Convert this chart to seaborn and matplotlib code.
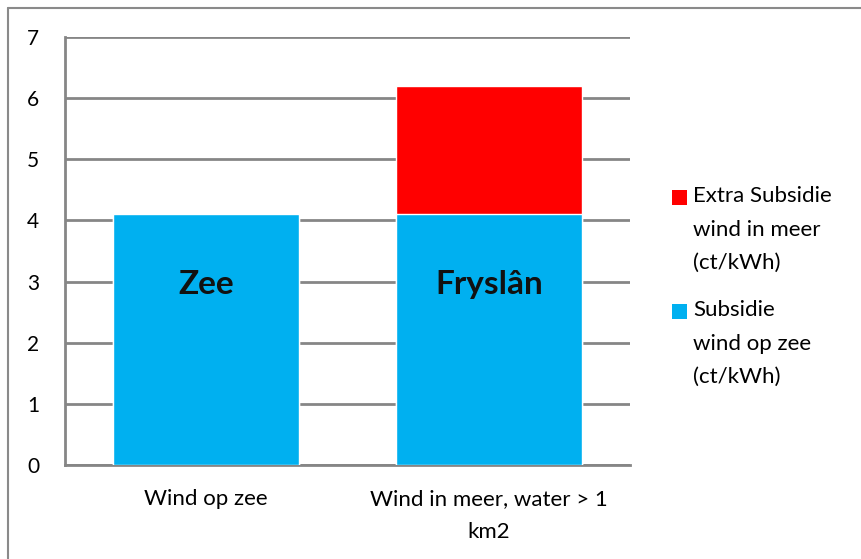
import pandas as pd
import matplotlib.pyplot as plt
import seaborn as sns
from matplotlib.patches import Rectangle
from matplotlib.lines import Line2D

# Gegevens uit de grafiek
categorieen = ["Wind op zee", "Wind in meer, water > 1\nkm2"]
subsidie_zee = [4.1, 4.1]
extra_subsidie = [0.0, 2.1]
bar_teksten = ["Zee", "Fryslân"]
legenda_labels = ["Extra Subsidie\nwind in meer\n(ct/kWh)", "Subsidie\nwind op zee\n(ct/kWh)"]

blauw = "#00B0F0"
rood = "#FF0000"
grijs = "#868686"

sns.set_style("white")
plt.rcParams["font.family"] = ["Lato", "DejaVu Sans"]

df = pd.DataFrame({
    "categorie": categorieen,
    "zee": subsidie_zee,
    "totaal": [a + b for a, b in zip(subsidie_zee, extra_subsidie)],
})

W, H = 861, 559
fig = plt.figure(figsize=(W / 100, H / 100), dpi=100)
ax = fig.add_axes([65 / W, 1 - 465 / H, (630 - 65) / W, (465 - 37) / H])

sns.barplot(data=df, x="categorie", y="totaal", color=rood, width=0.66,
            saturation=1, ax=ax, zorder=3)
sns.barplot(data=df, x="categorie", y="zee", color=blauw, width=0.66,
            saturation=1, ax=ax, zorder=3)

ax.set_ylim(0, 7)
ax.set_xlim(-0.5, 1.5)
ax.set_yticks(range(0, 8))
ax.yaxis.grid(True, color=grijs, linewidth=2, zorder=0)
ax.set_axisbelow(True)
ax.set_xlabel("")
ax.set_ylabel("")

for s in ["top", "right"]:
    ax.spines[s].set_visible(False)
for s in ["left", "bottom"]:
    ax.spines[s].set_color(grijs)
    ax.spines[s].set_linewidth(2)

ax.tick_params(axis="y", length=6.5, width=2, color=grijs, labelsize=15,
               pad=12, labelcolor="black")
ax.tick_params(axis="x", which="major", length=0, labelsize=16, pad=17,
               labelcolor="black")
for lab in ax.get_xticklabels():
    lab.set_linespacing(1.85)
ax.set_xticks([-0.5, 0.5, 1.5], minor=True)
ax.tick_params(axis="x", which="minor", length=6, width=2, color=grijs)

for i, t in enumerate(bar_teksten):
    ax.text(i, 2.8, t, ha="center", va="baseline", fontsize=24,
            fontweight="bold", color="#111111", zorder=5)

# legenda rechts, blokje naast de eerste regel
legenda = [(rood, legenda_labels[0], 197), (blauw, legenda_labels[1], 311)]
for kleur, tekst, y in legenda:
    fig.add_artist(Rectangle((672 / W, 1 - (y + 8) / H), 15 / W, 15 / H,
                             facecolor=kleur, edgecolor="none",
                             transform=fig.transFigure))
    fig.text(693 / W, 1 - (y - 11) / H, tekst, ha="left", va="top",
             fontsize=16, linespacing=1.85, color="black")

# buitenrand van het diagram
fig.add_artist(Line2D([8 / W, 1], [1 - 8 / H, 1 - 8 / H], color="#8a8a8a",
                      linewidth=1.5, transform=fig.transFigure))
fig.add_artist(Line2D([8 / W, 8 / W], [0, 1 - 8 / H], color="#8a8a8a",
                      linewidth=1.5, transform=fig.transFigure))

fig.savefig("out.png", dpi=100)
